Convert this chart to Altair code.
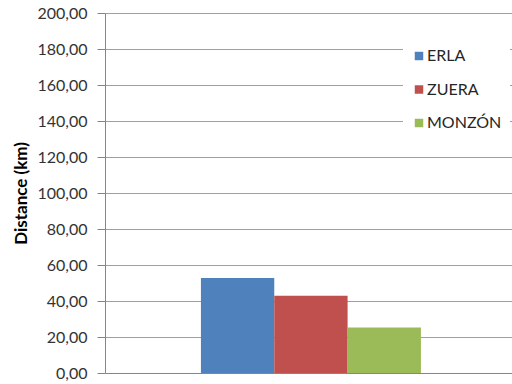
import altair as alt
import pandas as pd

series = ["ERLA", "ZUERA", "MONZÓN"]
values = [52.8, 42.9, 25.3]
colors = ["#4F81BD", "#C0504D", "#9BBB59"]
y_ticks = [0, 20, 40, 60, 80, 100, 120, 140, 160, 180, 200]

df = pd.DataFrame({"group": ["g"] * len(series), "series": series, "value": values})

FONT = "Lato"

chart = alt.Chart(df).mark_bar().encode(
    x=alt.X(
        "group:N",
        scale=alt.Scale(paddingInner=0, paddingOuter=0.425, align=0.513),
        axis=alt.Axis(labels=False, ticks=False, title=None, grid=False,
                      domainColor="#868686", domainWidth=1),
    ),
    xOffset=alt.XOffset(
        "series:N",
        sort=series,
        scale=alt.Scale(paddingInner=0, paddingOuter=0),
    ),
    y=alt.Y(
        "value:Q",
        scale=alt.Scale(domain=[0, 200], nice=False),
        axis=alt.Axis(
            values=y_ticks,
            labelOverlap=False,
            labelExpr="replace(format(datum.value, '.2f'), '.', ',')",
            title="Distance (km)",
            titleFont=FONT,
            titleFontSize=17,
            titleFontWeight="bold",
            titleColor="#000000",
            titlePadding=6,
            labelFont=FONT,
            labelFontSize=16,
            labelColor="#333333",
            labelPadding=10,
            tickSize=8,
            tickColor="#868686",
            domainColor="#868686",
            gridColor="#A0A0A0",
            gridWidth=1,
        ),
    ),
    color=alt.Color(
        "series:N",
        sort=series,
        scale=alt.Scale(domain=series, range=colors),
        legend=alt.Legend(
            title=None,
            orient="none",
            legendX=298,
            legendY=27,
            fillColor="white",
            padding=8,
            rowPadding=17.5,
            symbolType="square",
            symbolSize=72,
            symbolStrokeWidth=0,
            labelFont=FONT,
            labelFontSize=16,
            labelColor="#262626",
            labelOffset=0,
        ),
    ),
).properties(
    width=407,
    height=360,
    padding={"left": 105, "top": 13, "right": 0, "bottom": 11},
    autosize="none",
).configure_view(stroke=None)

chart.save("out.html", embed_options={"renderer": "svg", "actions": False})
